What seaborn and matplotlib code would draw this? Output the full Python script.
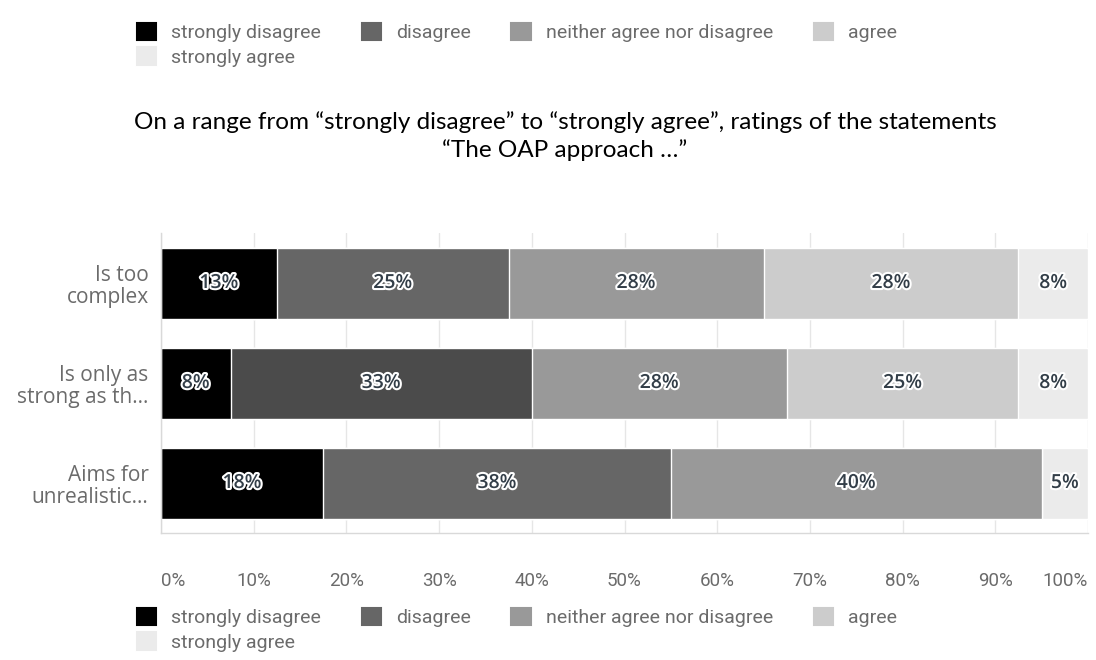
import matplotlib
matplotlib.use("Agg")
import matplotlib.pyplot as plt
import matplotlib.patheffects as pe
from matplotlib.patches import Patch
import numpy as np
import pandas as pd
import seaborn as sns

# Survey statements (y axis) and response scale
statements = ["Is too\ncomplex", "Is only as\nstrong as th...", "Aims for\nunrealistic..."]
responses = ["strongly disagree", "disagree", "neither agree nor disagree", "agree", "strongly agree"]

# Share of respondents (%) per response, one list per response level
strongly_disagree = [12.5, 7.5, 17.5]
disagree = [25.0, 32.5, 37.5]
neither = [27.5, 27.5, 40.0]
agree = [27.5, 25.0, 0.0]
strongly_agree = [7.5, 7.5, 5.0]

x_ticks = [0, 10, 20, 30, 40, 50, 60, 70, 80, 90, 100]
x_tick_labels = ["0%", "10%", "20%", "30%", "40%", "50%", "60%", "70%", "80%", "90%", "100%"]

title_lines = [
    "On a range from \u201cstrongly disagree\u201d to \u201cstrongly agree\u201d, ratings of the statements",
    "\u201cThe OAP approach \u2026\u201d",
]

colors = ["#000000", "#666666", "#999999", "#cccccc", "#ebebeb"]
highlight_disagree = "#4b4b4b"  # the second row's "disagree" segment is emphasised

series = [strongly_disagree, disagree, neither, agree, strongly_agree]
df = pd.DataFrame({r: v for r, v in zip(responses, series)}, index=statements)
cum = df.cumsum(axis=1)

sns.set_theme(style="white")
plt.rcParams["font.family"] = ["Roboto", "DejaVu Sans"]

fig = plt.figure(figsize=(10.96, 6.6), dpi=100)
ax = fig.add_axes([161 / 1096, 1 - 533 / 660, 927 / 1096, 300 / 660])

# Stacked bars: draw cumulative totals from the widest layer down
for i in range(len(responses) - 1, -1, -1):
    layer = pd.DataFrame({"statement": statements, "value": cum.iloc[:, i].values})
    if responses[i] == "disagree":
        pal = {s: (highlight_disagree if k == 1 else colors[i]) for k, s in enumerate(statements)}
        sns.barplot(data=layer, x="value", y="statement", hue="statement", palette=pal,
                    orient="h", width=0.71, saturation=1, legend=False, ax=ax, zorder=2)
    else:
        sns.barplot(data=layer, x="value", y="statement", color=colors[i],
                    orient="h", width=0.71, saturation=1, ax=ax, zorder=2)

# Segment value labels
halo = [pe.withStroke(linewidth=3, foreground="white")]
for row, s in enumerate(statements):
    left = 0.0
    for r in responses:
        v = df.loc[s, r]
        if v > 0:
            ax.text(left + v / 2, row, f"{int(np.floor(v + 0.5))}%", ha="center", va="center",
                    fontsize=14, fontweight="semibold", color="#333e48", path_effects=halo,
                    zorder=5, family=["Open Sans", "DejaVu Sans"])
        left += v

ax.set_xlim(0, 100)
ax.set_ylim(2.5, -0.5)
ax.set_xlabel("")
ax.set_ylabel("")
ax.set_xticks(x_ticks)
ax.set_xticklabels(x_tick_labels)
ax.xaxis.grid(True, color="#e6e6e6", linewidth=1, zorder=0)
ax.yaxis.grid(False)
ax.set_axisbelow(True)
ax.tick_params(axis="x", length=0, pad=28, labelsize=13.5, labelcolor="#6b6b6b")
ax.tick_params(axis="y", length=0, pad=9, labelsize=15, labelcolor="#6b6b6b")
for lab in ax.get_yticklabels():
    lab.set_linespacing(1.12)
    lab.set_family(["Open Sans", "DejaVu Sans"])
xl = ax.get_xticklabels()
xl[0].set_ha("left")
xl[-1].set_ha("right")
for sp in ["top", "right"]:
    ax.spines[sp].set_visible(False)
for sp in ["left", "bottom"]:
    ax.spines[sp].set_color("#d9d9d9")
    ax.spines[sp].set_linewidth(1)

# Title
for k, line in enumerate(title_lines):
    fig.text(565 / 1096, 1 - (122 + 28 * k) / 660, line, ha="center", va="center",
             fontsize=17.5, color="#000000", family=["Lato", "DejaVu Sans"])

# Legends above and below the chart
handles = [Patch(facecolor=c, edgecolor=c, linewidth=1.5, joinstyle="round") for c in colors]
order = [0, 4, 1, 2, 3]
leg_kw = dict(ncol=4, frameon=False, loc="upper left", borderpad=0, borderaxespad=0,
              handlelength=1.0, handleheight=1.0, handletextpad=0.75,
              columnspacing=2.1, labelspacing=0.25, labelcolor="#6b6b6b",
              prop={"family": "Roboto", "size": 14})
fig.legend([handles[k] for k in order], [responses[k] for k in order],
           bbox_to_anchor=(137 / 1096, 1 - 23 / 660), **leg_kw)
fig.legend([handles[k] for k in order], [responses[k] for k in order],
           bbox_to_anchor=(137 / 1096, 1 - 608 / 660), **leg_kw)

fig.savefig("out.png", dpi=100)
